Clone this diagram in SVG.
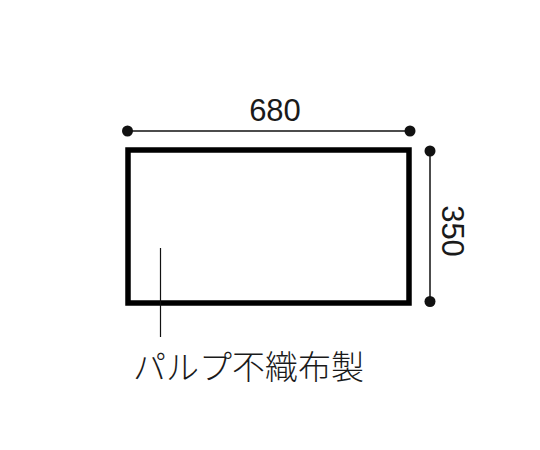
<svg xmlns="http://www.w3.org/2000/svg" width="540" height="450" viewBox="0 0 540 450">
<style>
.dim{stroke:#111;stroke-width:1.5;fill:none}
.dot{fill:#111}
.num{font-family:"Liberation Sans",Arial,sans-serif;font-size:31px;fill:#1a1a1a}
.jp{font-family:"Noto Sans CJK JP","Noto Sans",sans-serif;font-size:33px;fill:#1a1a1a;font-weight:300}
</style>
<rect width="540" height="450" fill="#fff"/>
<g id="sheet">
<rect x="128" y="150" width="281" height="153" fill="none" stroke="#000" stroke-width="5.5"/>
</g>
<g id="connectors">
<line class="dim" x1="127.5" y1="131" x2="410" y2="131"/>
<circle class="dot" cx="127.5" cy="131" r="5.5"/>
<circle class="dot" cx="410" cy="131" r="5.5"/>
<line class="dim" x1="430" y1="151" x2="430" y2="301.5"/>
<circle class="dot" cx="430" cy="151" r="5.5"/>
<circle class="dot" cx="430" cy="301.5" r="5.5"/>
<line x1="160.5" y1="248" x2="160.5" y2="337" stroke="#111" stroke-width="1.2"/>
</g>
<g id="width-label">
<text class="num" x="275" y="121" text-anchor="middle">680</text>
</g>
<g id="height-label">
<text class="num" transform="translate(442,231) rotate(90)" text-anchor="middle">350</text>
</g>
<g id="material-label">
<text class="jp" x="133" y="379">パルプ不織布製</text>
</g>
</svg>
